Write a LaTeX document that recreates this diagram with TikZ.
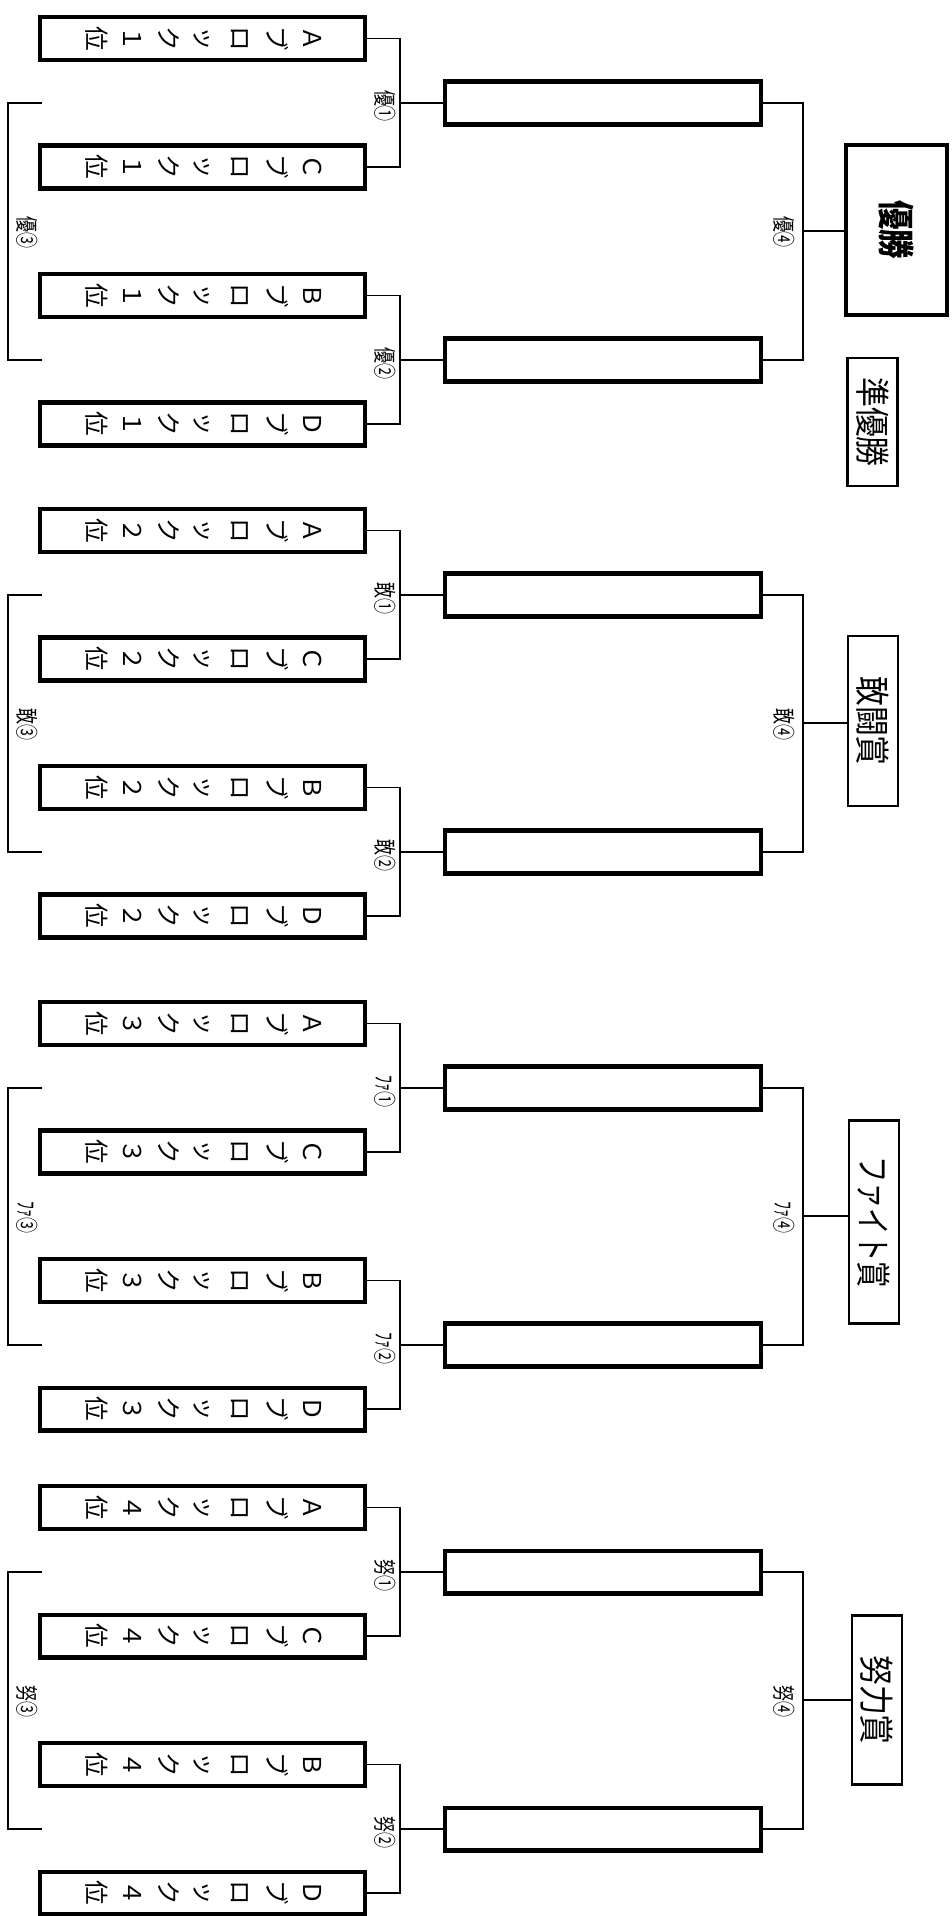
\documentclass[tikz,border=0pt]{standalone}
\usepackage{fontspec}
\newfontfamily\jp{Noto Sans CJK JP}
\usepackage{graphicx}
\usetikzlibrary{positioning,calc}
\tikzset{
  team/.style={
    rectangle, draw, line width=2.3pt, inner sep=0pt,
    minimum width=6.5cm, minimum height=0.86cm,
    font=\jp\fontsize{14}{20.5}\selectfont},
  winbox/.style={
    rectangle, draw, line width=2.3pt, inner sep=0pt,
    minimum width=6.32cm, minimum height=0.86cm},
  champ/.style={
    rectangle, draw, line width=2.3pt, inner sep=0pt,
    minimum width=2.02cm, minimum height=3.4cm,
    font=\jp\bfseries\fontsize{21}{25}\selectfont},
  prize/.style={
    rectangle, draw, line width=1.3pt, inner sep=0pt,
    minimum width=1.0cm, font=\jp\fontsize{20}{24}\selectfont},
  tag/.style={inner sep=0pt, font=\jp\fontsize{13}{15}\selectfont},
  conn/.style={line width=0.9pt},
}
\newcommand{\teamtxt}[2]{\rotatebox{-90}{\renewcommand{\arraystretch}{1}%
  \begin{tabular}{@{}c@{}}#1\\ブ\\ロ\\ッ\\ク\\#2\\位\end{tabular}}}
\newcommand{\sidetxt}[2][1]{\rotatebox{-90}{\scalebox{#1}[1]{#2}}}

\begin{document}
\begin{tikzpicture}[x=0.02cm, y=-0.02cm]
  \useasboundingbox (0,0) rectangle (952,1916);
  % four brackets, one per prize
  \foreach \s/\o/\pre/\rk in {1/0/優/１, 2/492/敢/２, 3/985/ﾌｧ/３, 4/1469/努/４}{
    \node[team] (ta-\s) at (202.5,38.5+\o) {\teamtxt{Ａ}{\rk}};
    \node[team] (tc-\s) at (202.5,167+\o) {\teamtxt{Ｃ}{\rk}};
    \node[team] (tb-\s) at (202.5,295.5+\o) {\teamtxt{Ｂ}{\rk}};
    \node[team] (td-\s) at (202.5,424+\o) {\teamtxt{Ｄ}{\rk}};
    \coordinate (ja-\s) at (400,103+\o);
    \coordinate (jb-\s) at (400,360+\o);
    \node[winbox] (wa-\s) at (603,103+\o) {};
    \node[winbox] (wb-\s) at (603,360+\o) {};
    \coordinate (jf-\s) at (803,231+\o);
    \coordinate (la-\s) at (42,103+\o);
    \coordinate (lb-\s) at (42,360+\o);
    \draw[conn] (ta-\s.east) -| (ja-\s) |- (tc-\s.east);
    \draw[conn] (tb-\s.east) -| (jb-\s) |- (td-\s.east);
    \draw[conn] (ja-\s) -- (wa-\s.west);
    \draw[conn] (jb-\s) -- (wb-\s.west);
    \draw[conn] (wa-\s.east) -| (jf-\s) |- (wb-\s.east);
    \draw[conn] (la-\s) -- ++(-34,0) |- (lb-\s);
    \node[tag, anchor=east] at ($(ja-\s)+(-4,3)$) {\sidetxt[0.7]{\pre①}};
    \node[tag, anchor=east] at ($(jb-\s)+(-4,3)$) {\sidetxt[0.7]{\pre②}};
    \node[tag, anchor=east] at ($(jf-\s)+(-8,1)$) {\sidetxt[0.7]{\pre④}};
    \node[tag, anchor=west] at ($(la-\s)!0.5!(lb-\s)+(-26,1)$) {\sidetxt[0.7]{\pre③}};
  }
  % prize boxes
  \node[champ] (win-1) at (896.5,230) {\sidetxt[0.8]{優勝}};
  \node[prize, minimum height=2.56cm] (run-1) at (872.5,422) {\sidetxt[0.85]{準優勝}};
  \node[prize, minimum height=3.4cm] (win-2) at (873,721) {\sidetxt[0.85]{敢闘賞}};
  \node[prize, minimum height=4.06cm] (win-3) at (874,1222) {\sidetxt[0.75]{ファイト賞}};
  \node[prize, minimum height=3.38cm] (win-4) at (877,1700) {\sidetxt[0.85]{努力賞}};
  \foreach \s in {1,2,3,4}
    \draw[conn] (jf-\s) -- (jf-\s -| win-\s.west);
\end{tikzpicture}
\end{document}
